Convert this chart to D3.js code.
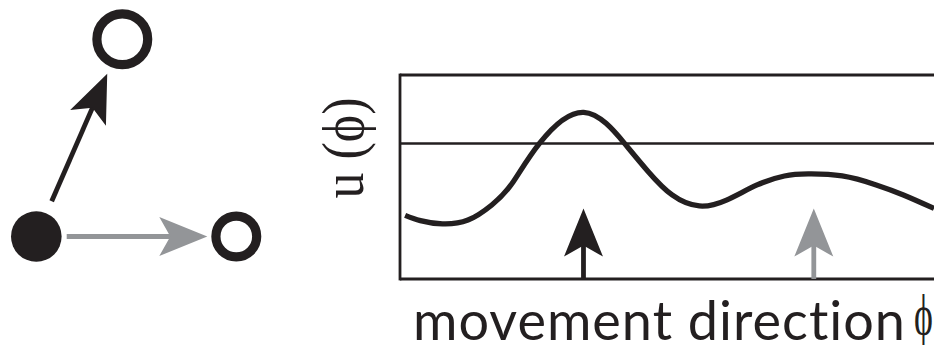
<!DOCTYPE html>
<html>
<head>
<meta charset="utf-8">
<script src="https://cdn.jsdelivr.net/npm/d3@7"></script>
<style>
  html, body { margin: 0; padding: 0; background: #ffffff; }
  svg { display: block; }
  text { font-variant-ligatures: none; font-feature-settings: "liga" 0, "clig" 0; }
</style>
</head>
<body>
<svg id="chart" width="934" height="345"></svg>
<script>
// ---- data ----------------------------------------------------------------
// Tuning curve u(phi): movement direction phi (percent of the visible span)
const phiSamples = [0.96, 3.82, 7.96, 12.73, 17.19, 21.01, 26.12, 34.40, 42.04,
                    46.50, 50.96, 56.05, 61.14, 66.87, 71.99, 76.44, 82.81, 89.18, 94.27, 100];
const uSamples   = [0.312, 0.286, 0.270, 0.289, 0.363, 0.469, 0.665, 0.817, 0.665,
                    0.526, 0.412, 0.358, 0.387, 0.461, 0.505, 0.515, 0.505, 0.461, 0.412, 0.346];
// Decision threshold on u
const threshold = 0.664;
// Candidate movement directions (first = chosen target, second = alternative)
const targetPhi = [34.36, 77.49];
const targetMarkerLevel = [0.345, 0.345];
// Schematic: start position and the two targets (unit coordinates)
const nodeX = [0, 0.43, 1];
const nodeY = [0, 0.986, 0];
// Axis title pieces
const xTitle = "movement direction";
const phiSymbol = "\u03D5";
const yTitle = "u (\u03D5)";

// ---- styling -------------------------------------------------------------
const ink = "#231f20";
const grey = "#939598";
const targetColors = [ink, grey];

const svg = d3.select("#chart");

// Scales for the tuning-curve panel
const x = d3.scaleLinear().domain([0, 100]).range([400, 934]);
const y = d3.scaleLinear().domain([0, 1]).range([279, 75]);

// Arrow with a notched head; tip at (x2, y2)
function arrow(g, x1, y1, x2, y2, color) {
  const L = 48, hw = 19.5, notch = 37;
  const dx = x2 - x1, dy = y2 - y1;
  const len = Math.hypot(dx, dy);
  const ang = Math.atan2(dy, dx) * 180 / Math.PI;
  const a = g.append("g").attr("transform", `translate(${x2},${y2}) rotate(${ang})`);
  a.append("line")
    .attr("x1", -len).attr("y1", 0).attr("x2", -notch + 1).attr("y2", 0)
    .attr("stroke", color).attr("stroke-width", 4.8);
  a.append("path")
    .attr("d", `M0,0 L${-L},${-hw} L${-notch},0 L${-L},${hw} Z`)
    .attr("fill", color);
}

// ---- schematic (left) -----------------------------------------------------
const sx = d3.scaleLinear().domain([0, 1]).range([36.3, 236.3]);
const sy = d3.scaleLinear().domain([0, 1]).range([236.5, 36.5]);
const schem = svg.append("g");

const ringRadius = [0, 25.4, 20.4];
const ox = sx(nodeX[0]), oy = sy(nodeY[0]);

// arrows from the start position toward each target
[[1, ink, 38.5, 37.7], [2, grey, 30.4, 29.0]].forEach(([i, color, startOff, endOff]) => {
  const tx = sx(nodeX[i]), ty = sy(nodeY[i]);
  const d = Math.hypot(tx - ox, ty - oy);
  const ux = (tx - ox) / d, uy = (ty - oy) / d;
  arrow(schem, ox + ux * startOff, oy + uy * startOff,
        ox + ux * (d - endOff), oy + uy * (d - endOff), color);
});

schem.append("circle")
  .attr("cx", ox).attr("cy", oy).attr("r", 25.3)
  .attr("fill", ink);

[1, 2].forEach(i => {
  schem.append("circle")
    .attr("cx", sx(nodeX[i])).attr("cy", sy(nodeY[i])).attr("r", ringRadius[i])
    .attr("fill", "none").attr("stroke", ink).attr("stroke-width", 9.2);
});

// ---- tuning-curve panel ---------------------------------------------------
const panel = svg.append("g");
const frameW = 2.8;

// frame: left, top, bottom edges and the threshold line
panel.append("line").attr("x1", x(0)).attr("x2", x(0))
  .attr("y1", y(1) - frameW / 2).attr("y2", y(0) + frameW / 2)
  .attr("stroke", ink).attr("stroke-width", frameW);
[1, 0].forEach(v => {
  panel.append("line").attr("x1", x(0)).attr("x2", x(100))
    .attr("y1", y(v)).attr("y2", y(v))
    .attr("stroke", ink).attr("stroke-width", frameW);
});
panel.append("line").attr("x1", x(0)).attr("x2", x(100))
  .attr("y1", y(threshold)).attr("y2", y(threshold))
  .attr("stroke", ink).attr("stroke-width", 2.6);

// tuning curve
const line = d3.line()
  .x((d, i) => x(phiSamples[i]))
  .y(d => y(d))
  .curve(d3.curveNatural);
panel.append("path")
  .attr("d", line(uSamples))
  .attr("fill", "none").attr("stroke", ink).attr("stroke-width", 5.3);

// target direction markers
targetPhi.forEach((p, i) => {
  arrow(panel, x(p), y(0), x(p), y(targetMarkerLevel[i]), targetColors[i]);
});

// ---- axis titles ------------------------------------------------------------
svg.append("text")
  .attr("x", 413).attr("y", 340)
  .attr("font-family", "Lato, sans-serif").attr("font-size", 54)
  .attr("fill", ink)
  .attr("textLength", 492).attr("lengthAdjust", "spacing")
  .text(xTitle);

svg.append("text")
  .attr("transform", "translate(923.5,334) scale(0.62,1)")
  .attr("text-anchor", "middle")
  .attr("font-family", "'Liberation Serif', serif").attr("font-size", 58)
  .attr("fill", ink)
  .text(phiSymbol);

svg.append("text")
  .attr("transform", "translate(363,148) rotate(-90) scale(1,1.15)")
  .attr("text-anchor", "middle")
  .attr("font-family", "'Liberation Serif', serif").attr("font-size", 52)
  .attr("fill", ink)
  .text(yTitle);
</script>
</body>
</html>
